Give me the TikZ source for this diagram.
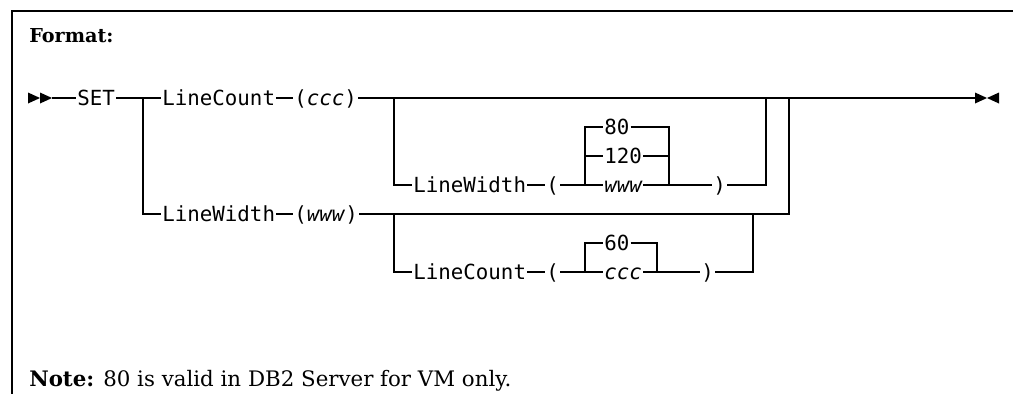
\documentclass[tikz,border=0pt]{standalone}
\usepackage{fontspec}
\newfontfamily\railfont{DejaVu Sans Mono}
\newfontfamily\notefont{DejaVu Serif}
\usetikzlibrary{calc}

\begin{document}
\begin{tikzpicture}[
  x=0.75pt, y=-0.75pt,
  rail/.style={line width=0.8pt},
  kw/.style={font=\railfont\fontsize{15.6}{18}\selectfont, inner xsep=0.8pt,
    inner ysep=0pt, text height=11.3pt, text depth=0pt, anchor=west},
  var/.style={kw, font=\railfont\itshape\fontsize{15.6}{18}\selectfont},
  heading/.style={font=\notefont\fontsize{16}{19}\selectfont, inner sep=0pt, anchor=base west}
]
\useasboundingbox (0,0) rectangle (1013,394);

% --- Frame ---
\draw[rail] (1013,11) -- (12,11) -- (12,394);

% --- Headings ---
\node[heading, font=\notefont\fontsize{14.4}{18}\selectfont] (fmt) at (29,42) {\textbf{Format:}};
\node[heading] (note) at (29,386) {\textbf{Note:} 80 is valid in DB2 Server for VM only.};

% --- Junction points ---
\coordinate (j1) at (143,98);
\coordinate (j2) at (394,98);
\coordinate (j3) at (766,98);
\coordinate (j4) at (789,98);
\coordinate (endpt) at (975,98);
\coordinate (startpt) at (52,98);

% --- Start / end marks ---
\fill (28,92.5) -- (40,98) -- (28,103.5) -- cycle;
\fill (40,92.5) -- (52,98) -- (40,103.5) -- cycle;
\fill (975,92.5) -- (987,98) -- (975,103.5) -- cycle;
\fill (999,92.5) -- (987,98) -- (999,103.5) -- cycle;

% --- Main row ---
\node[kw] (set) at (76,98) {SET};
\node[kw] (lc1) at (161,98) {LineCount};
\node[kw] (lc1arg) at (293,98) {(\textit{ccc})};

\draw[rail] (startpt) -- (set.west);
\draw[rail] (set.east) -- (lc1.west);
\draw[rail] (lc1.east) -- (lc1arg.west);
\draw[rail] (lc1arg.east) -- (endpt);
\draw[line width=1.6pt] (795,98) -- (819,98);

% --- Optional LineWidth after LineCount ---
\node[kw] (lw1) at (412,185) {LineWidth};
\node[kw] (lp1) at (545,185) {(};
\node[kw] (o80) at (603,127) {80};
\node[kw] (o120) at (603,156) {120};
\node[var] (www1) at (603,185) {www};
\node[kw] (rp1) at (712,185) {)};

\draw[rail] (j2) |- (lw1.west);
\draw[rail] (lw1.east) -- (lp1.west);
\draw[rail] (lp1.east) -- (www1.west);
\draw[rail] (585,185) |- (o80.west);
\draw[rail] (585,156) -- (o120.west);
\draw[rail] (o80.east) -| (669,185);
\draw[rail] (o120.east) -- (669,156);
\draw[rail] (www1.east) -- (rp1.west);
\draw[rail] (rp1.east) -| (j3);

% --- Second branch: LineWidth first ---
\node[kw] (lw2) at (161,214) {LineWidth};
\node[kw] (lw2arg) at (293,214) {(\textit{www})};

\draw[rail] (j1) |- (lw2.west);
\draw[rail] (lw2.east) -- (lw2arg.west);
\draw[rail] (lw2arg.east) -| (j4);

% --- Optional LineCount after LineWidth ---
\node[kw] (lc2) at (412,272) {LineCount};
\node[kw] (lp2) at (545,272) {(};
\node[kw] (o60) at (603,243) {60};
\node[var] (ccc2) at (603,272) {ccc};
\node[kw] (rp2) at (700,272) {)};

\draw[rail] (394,214) |- (lc2.west);
\draw[rail] (lc2.east) -- (lp2.west);
\draw[rail] (lp2.east) -- (ccc2.west);
\draw[rail] (585,272) |- (o60.west);
\draw[rail] (o60.east) -| (657,272);
\draw[rail] (ccc2.east) -- (rp2.west);
\draw[rail] (rp2.east) -| (753,214);

\end{tikzpicture}
\end{document}
